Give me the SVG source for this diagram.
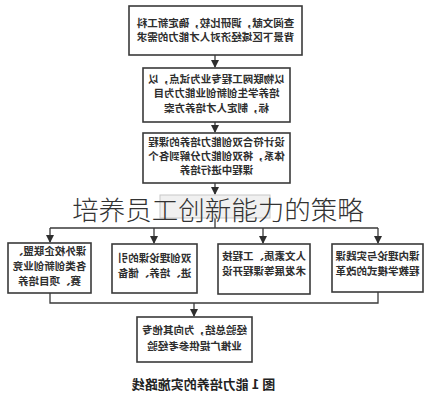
<svg xmlns="http://www.w3.org/2000/svg" width="444" height="400" viewBox="0 0 444 400">
<style>
.box{fill:#fff;stroke:#3a3a3a;stroke-width:1.6}
.ln{fill:none;stroke:#3a3a3a;stroke-width:1.3}
.t{font-family:"Noto Sans CJK SC","Noto Sans CJK JP",sans-serif;font-size:10.5px;font-weight:bold;fill:#2e2e2e;text-anchor:middle}
.cap{font-family:"Noto Sans CJK SC",sans-serif;font-size:13px;font-weight:bold;fill:#222;text-anchor:middle}
.title{font-family:"Noto Sans CJK SC",sans-serif;font-size:26.5px;font-weight:300;fill:#333;text-anchor:middle}
</style>
<defs>
<marker id="ah" markerWidth="8" markerHeight="8" refX="7" refY="4" orient="auto" markerUnits="userSpaceOnUse">
<path d="M0,0 L8,4 L0,8 Z" fill="#2e2e2e"/>
</marker>
</defs>
<rect width="444" height="400" fill="#fff"/>
<g id="connectors">
<path class="ln" d="M215,55 V67" marker-end="url(#ah)"/>
<path class="ln" d="M215,122 V132" marker-end="url(#ah)"/>
<path class="ln" d="M215,183 V194" marker-end="url(#ah)"/>
<path class="ln" d="M215,218 V228 M50,228 H378"/>
<path class="ln" d="M50,228 V242" marker-end="url(#ah)"/>
<path class="ln" d="M154,228 V243" marker-end="url(#ah)"/>
<path class="ln" d="M263,228 V243" marker-end="url(#ah)"/>
<path class="ln" d="M378,228 V243" marker-end="url(#ah)"/>
<path class="ln" d="M50,293 V303 H378 V292"/>
<path class="ln" d="M194,303 V316" marker-end="url(#ah)"/>
</g>
<g id="n1">
<rect class="box" x="129" y="6" width="173" height="49"/>
<g transform="matrix(-1 0 0 1 431 0)">
<text class="t" x="215.5" y="27">查阅文献，调研比较，确定新工科</text>
<text class="t" x="215.5" y="41">背景下区域经济对人才能力的需求</text>
</g>
</g>
<g id="n2">
<rect class="box" x="143" y="68" width="147" height="54"/>
<g transform="matrix(-1 0 0 1 433 0)">
<text class="t" x="216.5" y="83">以物联网工程专业为试点，以</text>
<text class="t" x="216.5" y="97">培养学生创新创业能力为目</text>
<text class="t" x="216.5" y="112">标，制定人才培养方案</text>
</g>
</g>
<g id="n3">
<rect class="box" x="143" y="133" width="147" height="50"/>
<g transform="matrix(-1 0 0 1 433 0)">
<text class="t" x="216.5" y="146">设计符合双创能力培养的课程</text>
<text class="t" x="216.5" y="160">体系，将双创能力分解到各个</text>
<text class="t" x="216.5" y="174">课程中进行培养</text>
</g>
</g>
<g id="n_faint">
<rect x="160" y="195" width="110" height="23" fill="#f0f0f0" stroke="#c8c8c8" stroke-width="1"/>
</g>
<g id="n4">
<rect class="box" x="8" y="243" width="83" height="50"/>
<g transform="matrix(-1 0 0 1 99 0)">
<text class="t" x="49.5" y="255">课外校企联盟、</text>
<text class="t" x="49.5" y="270">各类创新创业竞</text>
<text class="t" x="49.5" y="285">赛、项目培养</text>
</g>
</g>
<g id="n5">
<rect class="box" x="112" y="244" width="85" height="49"/>
<g transform="matrix(-1 0 0 1 309 0)">
<text class="t" x="154.5" y="262">双创理论课的引</text>
<text class="t" x="154.5" y="277">进、培养、储备</text>
</g>
</g>
<g id="n6">
<rect class="box" x="218" y="244" width="92" height="50"/>
<g transform="matrix(-1 0 0 1 528 0)">
<text class="t" x="264" y="260">人文素质、工程技</text>
<text class="t" x="264" y="275">术发展等课程开设</text>
</g>
</g>
<g id="n7">
<rect class="box" x="332" y="244" width="91" height="48"/>
<g transform="matrix(-1 0 0 1 755 0)">
<text class="t" x="377.5" y="260">课内理论与实践课</text>
<text class="t" x="377.5" y="275">程教学模式的改革</text>
</g>
</g>
<g id="n8">
<rect class="box" x="137" y="317" width="115" height="45"/>
<g transform="matrix(-1 0 0 1 389 0)">
<text class="t" x="194.5" y="334">经验总结，为向其他专</text>
<text class="t" x="194.5" y="350">业推广提供参考经验</text>
</g>
</g>
<g id="caption" transform="matrix(-1 0 0 1 407 0)">
<text class="cap" x="203.5" y="389">图 1  能力培养的实施路线</text>
</g>
<text class="title" x="218" y="220">培养员工创新能力的策略</text>
</svg>
